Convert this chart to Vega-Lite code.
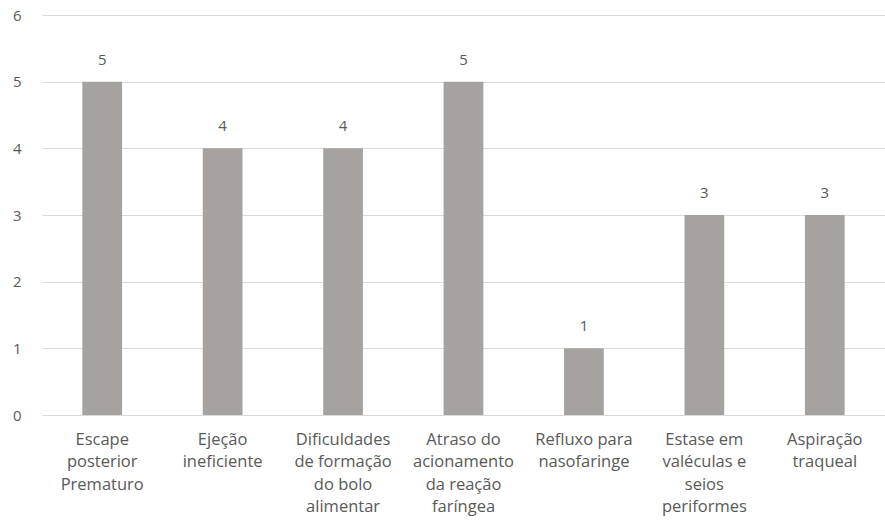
{
  "$schema": "https://vega.github.io/schema/vega-lite/v6.json",
  "width": 843,
  "height": 400,
  "autosize": {"type": "none"},
  "padding": {"left": 42, "top": 15, "right": 0, "bottom": 117},
  "background": "white",
  "config": {"view": {"stroke": null}, "font": "Open Sans"},
  "data": {"values": [
    {"cat": "Escape|posterior|Prematuro", "v": 5},
    {"cat": "Ejeção|ineficiente", "v": 4},
    {"cat": "Dificuldades|de formação|do bolo|alimentar", "v": 4},
    {"cat": "Atraso do|acionamento|da reação|faríngea", "v": 5},
    {"cat": "Refluxo para|nasofaringe", "v": 1},
    {"cat": "Estase em|valéculas e|seios|periformes", "v": 3},
    {"cat": "Aspiração|traqueal", "v": 3}
  ]},
  "encoding": {
    "x": {"field": "cat", "type": "nominal", "sort": null, "title": null,
      "scale": {"paddingInner": 0.67, "paddingOuter": 0.335},
      "axis": {"labelAngle": 0, "labelExpr": "split(datum.label, '|')", "labelFont": "Open Sans", "labelFontSize": 16.5, "labelColor": "#595959", "labelLineHeight": 22.5, "labelPadding": 16, "ticks": false, "domainColor": "#d9d9d9", "labelAlign": "center", "labelBaseline": "top", "labelLimit": 200}},
    "y": {"field": "v", "type": "quantitative", "title": null,
      "scale": {"domain": [0, 6], "nice": false},
      "axis": {"values": [0, 1, 2, 3, 4, 5, 6], "labelOverlap": false, "domain": false, "ticks": false, "gridColor": "#d9d9d9", "labelFont": "Open Sans", "labelFontSize": 15, "labelColor": "#595959", "labelPadding": 21}}
  },
  "layer": [
    {"mark": {"type": "bar", "color": "#a5a2a0"}},
    {"mark": {"type": "text", "dy": -22, "font": "Open Sans", "fontSize": 15, "color": "#595959"}, "encoding": {"text": {"field": "v"}}}
  ]
}
